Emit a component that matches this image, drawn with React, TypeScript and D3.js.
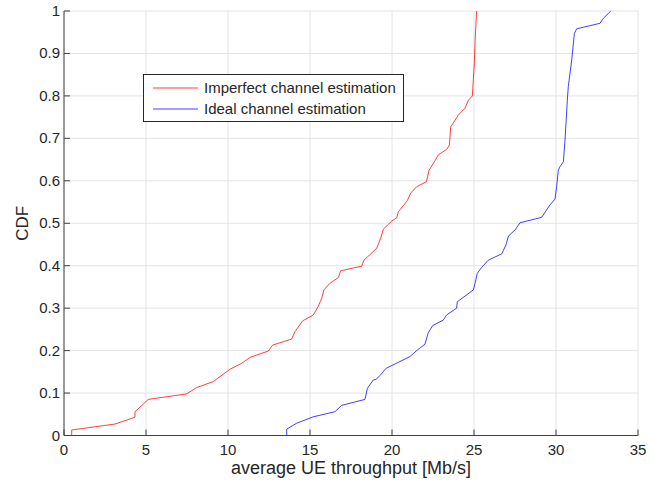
import React from 'react'
import * as d3 from 'd3'

// Imperfect channel estimation [throughput Mb/s, CDF]
const imperfectX = [0.47, 0.47, 3.11, 4.33, 4.33, 5.14, 7.48, 8.09, 9.1, 10.12, 10.83, 11.34, 12.46, 12.72, 13.88, 14.09, 14.55, 15.2, 15.5, 15.71, 15.85, 16.2, 16.73, 16.87, 18.15, 18.29, 19.07, 19.33, 19.47, 19.98, 20.29, 20.39, 20.93, 21.14, 21.5, 22.1, 22.26, 22.62, 22.82, 23.33, 23.5, 23.58, 24.05, 24.45, 24.66, 24.9, 25.02, 25.06, 25.16]
const imperfectY = [0, 0.013, 0.027, 0.043, 0.056, 0.085, 0.098, 0.113, 0.127, 0.156, 0.17, 0.184, 0.199, 0.213, 0.227, 0.245, 0.27, 0.284, 0.304, 0.323, 0.343, 0.358, 0.372, 0.388, 0.399, 0.413, 0.441, 0.467, 0.486, 0.505, 0.513, 0.527, 0.553, 0.571, 0.586, 0.598, 0.625, 0.647, 0.661, 0.674, 0.684, 0.727, 0.755, 0.771, 0.79, 0.8, 0.877, 0.924, 1.0]

// Ideal channel estimation
const idealX = [13.58, 13.58, 14.19, 15.2, 16.52, 16.93, 18.35, 18.5, 18.86, 19.02, 19.31, 19.63, 21.1, 21.5, 22.01, 22.21, 22.48, 23.13, 23.33, 23.94, 23.98, 24.96, 25.06, 25.2, 25.47, 25.87, 26.69, 26.95, 27.1, 27.5, 27.8, 29.13, 29.63, 29.94, 30.04, 30.14, 30.24, 30.45, 30.55, 30.69, 30.75, 30.96, 31.12, 31.26, 32.68, 32.9, 33.34]
const idealY = [0, 0.015, 0.029, 0.044, 0.056, 0.071, 0.085, 0.111, 0.131, 0.132, 0.143, 0.158, 0.186, 0.2, 0.215, 0.242, 0.259, 0.272, 0.284, 0.3, 0.315, 0.343, 0.358, 0.382, 0.396, 0.413, 0.428, 0.449, 0.47, 0.484, 0.501, 0.514, 0.543, 0.557, 0.586, 0.625, 0.633, 0.645, 0.696, 0.79, 0.822, 0.885, 0.947, 0.958, 0.971, 0.983, 1.0]

const xTicks = [0, 5, 10, 15, 20, 25, 30, 35]
const yTicks = [0, 0.1, 0.2, 0.3, 0.4, 0.5, 0.6, 0.7, 0.8, 0.9, 1]

const seriesNames = ['Imperfect channel estimation', 'Ideal channel estimation']
const seriesColors = ['#ff0000', '#0000ff']

const W = 671
const H = 485
const m = { left: 64, right: 638, top: 11, bottom: 435.5 }
const font = '"Liberation Sans", Arial, Helvetica, sans-serif'

export default function App() {
  const x = d3.scaleLinear().domain([0, 35]).range([m.left, m.right])
  const y = d3.scaleLinear().domain([0, 1]).range([m.bottom, m.top])

  const line = d3.line<[number, number]>()
    .x(d => x(d[0]))
    .y(d => y(d[1]))

  const series = [
    imperfectX.map((v, i) => [v, imperfectY[i]] as [number, number]),
    idealX.map((v, i) => [v, idealY[i]] as [number, number]),
  ]

  const fmt = (v: number) => (v === 0 || v === 1 ? String(v) : v.toFixed(1))

  return (
    <svg width={W} height={H} style={{ position: 'absolute', left: 0, top: 0, background: '#fff' }}>
      {/* grid */}
      <g stroke="#e4e4e4" strokeWidth={1}>
        {xTicks.map(t => (
          <line key={'gx' + t} x1={x(t)} x2={x(t)} y1={m.top} y2={m.bottom} />
        ))}
        {yTicks.map(t => (
          <line key={'gy' + t} x1={m.left} x2={m.right} y1={y(t)} y2={y(t)} />
        ))}
      </g>

      {/* curves */}
      {series.map((s, i) => (
        <path key={i} d={line(s) || ''} fill="none" stroke={seriesColors[i]} strokeWidth={1} strokeOpacity={0.75} />
      ))}

      {/* axes */}
      <g stroke="#404040" strokeWidth={1}>
        <line x1={m.left} x2={m.left} y1={m.top} y2={m.bottom} />
        <line x1={m.left} x2={m.right} y1={m.bottom} y2={m.bottom} />
        {xTicks.map(t => (
          <line key={'tx' + t} x1={x(t)} x2={x(t)} y1={m.bottom} y2={m.bottom - 6} />
        ))}
        {yTicks.map(t => (
          <line key={'ty' + t} x1={m.left} x2={m.left + 6} y1={y(t)} y2={y(t)} />
        ))}
      </g>

      <g fontFamily={font} fontSize={15} fill="#262626">
        {xTicks.map(t => (
          <text key={'lx' + t} x={x(t)} y={m.bottom + 19} textAnchor="middle">{t}</text>
        ))}
        {yTicks.map(t => (
          <text key={'ly' + t} x={m.left - 4} y={y(t) + 5} textAnchor="end">{fmt(t)}</text>
        ))}
      </g>

      <text x={(m.left + m.right) / 2} y={474} textAnchor="middle" fontFamily={font} fontSize={18} fill="#262626">
        average UE throughput [Mb/s]
      </text>
      <text transform={`translate(28,${(m.top + m.bottom) / 2}) rotate(-90)`} textAnchor="middle" fontFamily={font} fontSize={17} fill="#262626">
        CDF
      </text>

      {/* legend */}
      <g>
        <rect x={143.5} y={74.5} width={260} height={47} fill="#fff" stroke="#262626" strokeWidth={1} />
        {seriesNames.map((n, i) => (
          <g key={n}>
            <line x1={153} x2={198} y1={88 + i * 21} y2={88 + i * 21} stroke={seriesColors[i]} strokeWidth={1} strokeOpacity={0.75} />
            <text x={204} y={93 + i * 21} fontFamily={font} fontSize={15} fill="#262626">{n}</text>
          </g>
        ))}
      </g>
    </svg>
  )
}
